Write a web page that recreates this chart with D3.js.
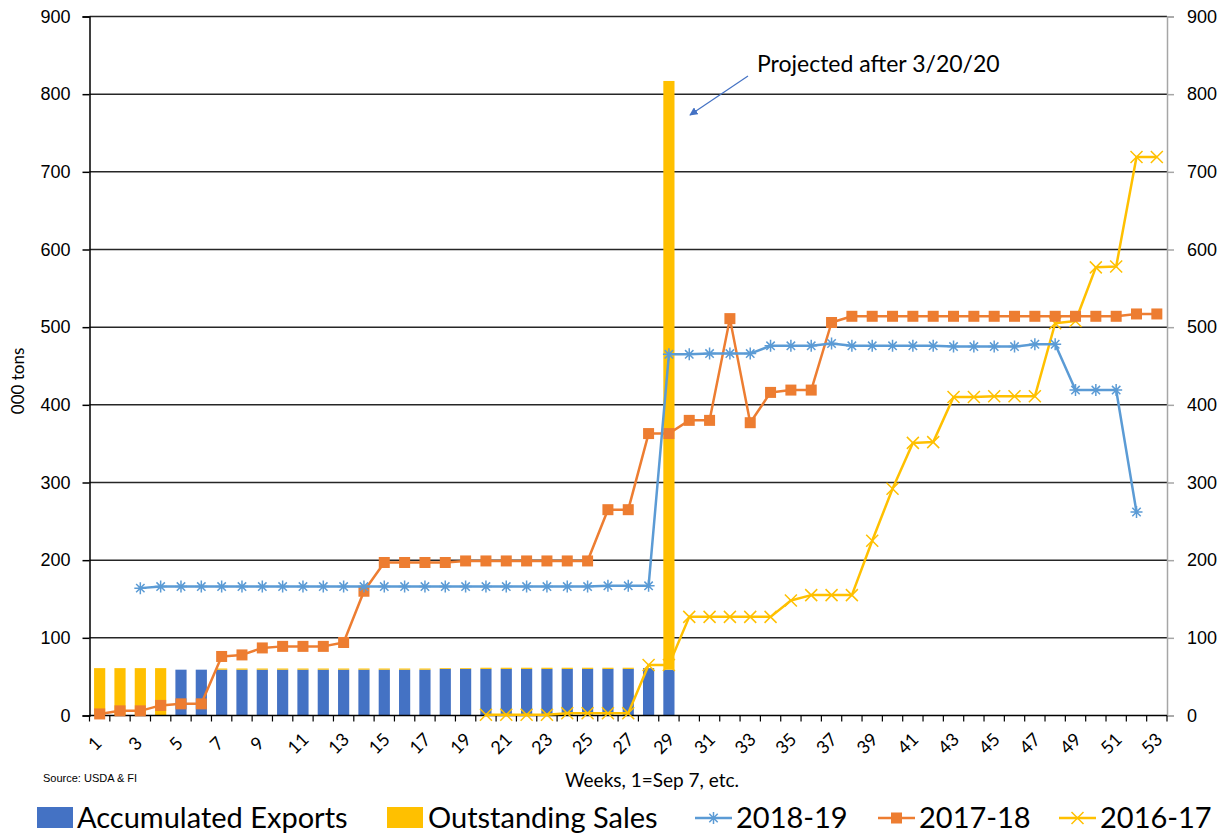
<!DOCTYPE html>
<html>
<head>
<meta charset="utf-8">
<script src="https://cdn.jsdelivr.net/npm/d3@7"></script>
<style>
  body { margin: 0; background: #fff; }
  svg { font-family: Lato, "Open Sans", sans-serif; }
</style>
</head>
<body>
<svg id="chart" width="1226" height="836"></svg>
<script>
var weeks = [1,2,3,4,5,6,7,8,9,10,11,12,13,14,15,16,17,18,19,20,21,22,23,24,25,26,27,
             28,29,30,31,32,33,34,35,36,37,38,39,40,41,42,43,44,45,46,47,48,49,50,51,52,53];

var accumulatedExports = [0,0,0,0,59,59,59,59,59,59,59,59,59,59,59,59,59,60,60,60,60,60,60,60,60,60,60,
                          61,59,null,null,null,null,null,null,null,null,null,null,null,null,null,null,null,null,null,null,null,null,null,null,null,null];

var outstandingSales = [61,61,61,61,0,0,1.5,1.5,1.5,1.5,1.5,1.5,1.5,1.5,1.5,1.5,1.5,1,1,1.5,1.5,1.5,1.5,1.5,1.5,1.5,1.5,
                        0,758,null,null,null,null,null,null,null,null,null,null,null,null,null,null,null,null,null,null,null,null,null,null,null,null];

var s2018_19 = [null,null,164,166,166,166,166,166,166,166,166,166,166,166,166,166,166,166,166,166,166,166,166,166,166,167,167,
                167,465,465,466,466,466,476,476,476,479,476,476,476,476,476,475,475,475,475,478,478,419,419,419,262,null];

var s2017_18 = [2,6,6,13,15,15,76,78,87,89,89,89,94,160,197,197,197,197,199,199,199,199,199,199,199,265,265,
                363,363,380,380,511,377,416,419,419,506,514,514,514,514,514,514,514,514,514,514,514,514,514,514,517,517];

var s2016_17 = [null,null,null,null,null,null,null,null,null,null,null,null,null,null,null,null,null,null,null,1,1,1,1,3,3,3,3,
                65,65,127,127,127,127,127,148,155,155,155,225,292,351,352,410,410,411,411,411,505,508,577,578,719,719];

var yTicks = [0,100,200,300,400,500,600,700,800,900];

var colors = {
  exports: "#4472C4",
  sales: "#FFC000",
  s2018: "#5B9BD5",
  s2017: "#ED7D31",
  s2016: "#FFC000"
};

var svg = d3.select("#chart");
var plotLeft = 89.5, plotRight = 1167, plotTop = 16.5, plotBottom = 715.5;

var x = d3.scaleBand().domain(weeks).range([plotLeft, plotRight]).padding(0);
var y = d3.scaleLinear().domain([0, 900]).range([plotBottom, plotTop]);
var cx = w => x(w) + x.bandwidth() / 2;

// gridlines
svg.append("g")
  .selectAll("line")
  .data(yTicks.filter(d => d > 0))
  .join("line")
    .attr("x1", plotLeft).attr("x2", plotRight)
    .attr("y1", d => y(d)).attr("y2", d => y(d))
    .attr("stroke", "#262626").attr("stroke-width", 1.5);

// bars
var barW = x.bandwidth() * 0.55;
var bars = svg.append("g");
weeks.forEach((w, i) => {
  var e = accumulatedExports[i], s = outstandingSales[i];
  if (e == null) return;
  bars.append("rect")
    .attr("x", cx(w) - barW / 2).attr("width", barW)
    .attr("y", y(e)).attr("height", y(0) - y(e))
    .attr("fill", colors.exports);
  if (s > 0) {
    bars.append("rect")
      .attr("x", cx(w) - barW / 2).attr("width", barW)
      .attr("y", y(e + s)).attr("height", y(e) - y(e + s))
      .attr("fill", colors.sales);
  }
});

// axes
var yLeft = d3.axisLeft(y).tickValues(yTicks).tickSize(7).tickPadding(12);
var gL = svg.append("g").attr("transform", "translate(" + plotLeft + ",0)").call(yLeft);
gL.select(".domain").attr("stroke", "#000").attr("stroke-width", 1.5);
gL.selectAll(".tick line").attr("stroke", "#000").attr("stroke-width", 1.5);
gL.selectAll("text").attr("font-size", 18).attr("fill", "#000");

var yRight = d3.axisRight(y).tickValues(yTicks).tickSize(7).tickPadding(13);
var gR = svg.append("g").attr("transform", "translate(" + plotRight + ",0)").call(yRight);
gR.select(".domain").attr("stroke", "#A6A6A6").attr("stroke-width", 1.5);
gR.selectAll(".tick line").attr("stroke", "#A6A6A6").attr("stroke-width", 1.5);
gR.selectAll("text").attr("font-size", 18).attr("fill", "#000");

// x axis
var gx = svg.append("g");
gx.append("line")
  .attr("x1", plotLeft).attr("x2", plotRight)
  .attr("y1", plotBottom).attr("y2", plotBottom)
  .attr("stroke", "#000").attr("stroke-width", 1.5);
gx.selectAll(".xt")
  .data(weeks.concat([54]))
  .join("line")
    .attr("x1", (d, i) => plotLeft + i * x.bandwidth())
    .attr("x2", (d, i) => plotLeft + i * x.bandwidth())
    .attr("y1", plotBottom).attr("y2", plotBottom + 6)
    .attr("stroke", "#000").attr("stroke-width", 1.2);
gx.selectAll("text")
  .data(weeks.filter(w => w % 2 === 1))
  .join("text")
    .attr("transform", w => "translate(" + (cx(w) - 5) + "," + (plotBottom + 28) + ") rotate(-45)")
    .attr("text-anchor", "middle")
    .attr("dy", "0.35em")
    .attr("font-size", 18)
    .text(w => w);

// lines
function drawSeries(values, color, marker) {
  var pts = weeks.map((w, i) => ({ w: w, v: values[i] })).filter(d => d.v != null);
  var line = d3.line().x(d => cx(d.w)).y(d => y(d.v));
  var g = svg.append("g");
  g.append("path")
    .attr("d", line(pts))
    .attr("fill", "none")
    .attr("stroke", color)
    .attr("stroke-width", 2.5)
    .attr("stroke-linejoin", "round");
  g.selectAll("g")
    .data(pts)
    .join("g")
      .attr("transform", d => "translate(" + cx(d.w) + "," + y(d.v) + ")")
      .each(function() { marker(d3.select(this), color); });
}

function starMarker(g, color) {
  var r = 6;
  g.append("path")
    .attr("d", "M" + -r + ",0H" + r + "M" + (-r * 0.7) + "," + (-r * 0.7) + "L" + (r * 0.7) + "," + (r * 0.7) +
               "M" + (-r * 0.7) + "," + (r * 0.7) + "L" + (r * 0.7) + "," + (-r * 0.7) + "M0," + -r + "V" + r)
    .attr("stroke", color).attr("stroke-width", 1.5).attr("fill", "none");
}
function squareMarker(g, color) {
  g.append("rect").attr("x", -5.5).attr("y", -5.5).attr("width", 11).attr("height", 11).attr("fill", color);
}
function xMarker(g, color) {
  var r = 6;
  g.append("path")
    .attr("d", "M" + -r + "," + -r + "L" + r + "," + r + "M" + -r + "," + r + "L" + r + "," + -r)
    .attr("stroke", color).attr("stroke-width", 1.5).attr("fill", "none");
}

drawSeries(s2016_17, colors.s2016, xMarker);
drawSeries(s2017_18, colors.s2017, squareMarker);
drawSeries(s2018_19, colors.s2018, starMarker);

// axis titles
svg.append("text")
  .attr("transform", "translate(24,381) rotate(-90)")
  .attr("text-anchor", "middle")
  .attr("font-size", 17)
  .text("000 tons");

svg.append("text")
  .attr("x", 652).attr("y", 787)
  .attr("text-anchor", "middle")
  .attr("font-size", 19)
  .text("Weeks, 1=Sep 7, etc.");

svg.append("text")
  .attr("x", 43).attr("y", 782)
  .attr("font-family", "Liberation Sans, Arial, sans-serif")
  .attr("font-size", 11)
  .text("Source: USDA & FI");

// annotation
svg.append("defs").append("marker")
    .attr("id", "arrow")
    .attr("viewBox", "0 0 10 10")
    .attr("refX", 9).attr("refY", 5)
    .attr("markerWidth", 7).attr("markerHeight", 7)
    .attr("orient", "auto")
  .append("path")
    .attr("d", "M0,0L10,5L0,10z")
    .attr("fill", "#4472C4");

svg.append("line")
  .attr("x1", 748).attr("y1", 76)
  .attr("x2", 690).attr("y2", 115)
  .attr("stroke", "#4472C4").attr("stroke-width", 1.2)
  .attr("marker-end", "url(#arrow)");

svg.append("text")
  .attr("x", 757).attr("y", 72)
  .attr("font-size", 23)
  .text("Projected after 3/20/20");

// legend
var legend = svg.append("g").attr("font-size", 29);
legend.append("rect").attr("x", 37).attr("y", 807).attr("width", 36).attr("height", 21).attr("fill", colors.exports);
legend.append("text").attr("x", 77).attr("y", 828).text("Accumulated Exports");
legend.append("rect").attr("x", 387).attr("y", 807).attr("width", 36).attr("height", 21).attr("fill", colors.sales);
legend.append("text").attr("x", 428).attr("y", 828).text("Outstanding Sales");

var lineItems = [
  { x: 695, label: "2018-19", color: colors.s2018, marker: starMarker },
  { x: 878, label: "2017-18", color: colors.s2017, marker: squareMarker },
  { x: 1059, label: "2016-17", color: colors.s2016, marker: xMarker }
];
lineItems.forEach(d => {
  legend.append("line")
    .attr("x1", d.x).attr("x2", d.x + 37)
    .attr("y1", 818).attr("y2", 818)
    .attr("stroke", d.color).attr("stroke-width", 2.5);
  var m = legend.append("g").attr("transform", "translate(" + (d.x + 18.5) + ",818)");
  d.marker(m, d.color);
  legend.append("text").attr("x", d.x + 41).attr("y", 828).text(d.label);
});
</script>
</body>
</html>
